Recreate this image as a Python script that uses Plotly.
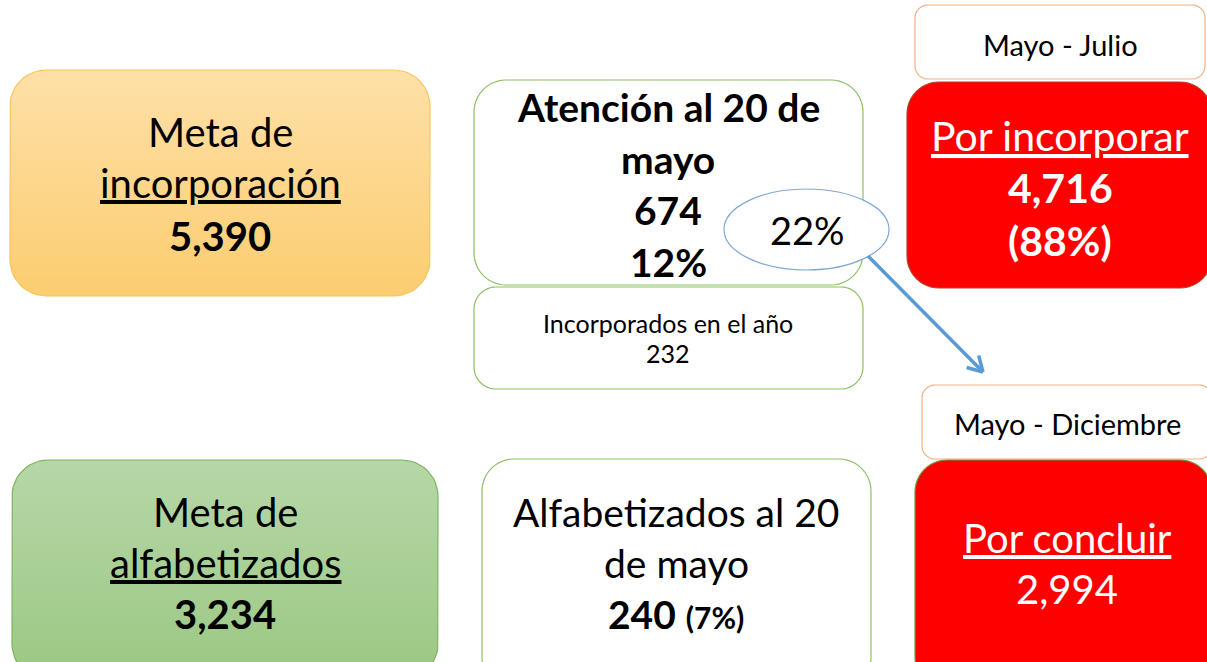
import math
import plotly.graph_objects as go

W, H = 1207, 662
FONT = "Lato"

# ---- data (values shown in the diagram) ----
meta_incorporacion = 5390
atencion_20_mayo = 674
atencion_pct = 12
ellipse_pct = 22
incorporados_anio = 232
por_incorporar = 4716
por_incorporar_pct = 88
meta_alfabetizados = 3234
alfabetizados_20_mayo = 240
alfabetizados_pct = 7
por_concluir = 2994
periodo_labels = ["Mayo - Julio", "Mayo - Diciembre"]


def fmt(n):
    return f"{n:,}"


def rrect(x0, y0, x1, y1, r):
    """Rounded rectangle outline as a list of points."""
    pts = []
    corners = [(x1 - r, y0 + r, -90, 0), (x1 - r, y1 - r, 0, 90),
               (x0 + r, y1 - r, 90, 180), (x0 + r, y0 + r, 180, 270)]
    for cx, cy, a0, a1 in corners:
        for k in range(13):
            a = math.radians(a0 + (a1 - a0) * k / 12)
            pts.append((cx + r * math.cos(a), cy + r * math.sin(a)))
    pts.append(pts[0])
    return pts


def path_of(pts):
    return "M " + " L ".join(f"{x:.2f},{y:.2f}" for x, y in pts) + " Z"


fig = go.Figure()
shapes = []


def box(x0, y0, x1, y1, r, fill, line, lw=1.2):
    shapes.append(dict(type="path", path=path_of(rrect(x0, y0, x1, y1, r)),
                       fillcolor=fill, line=dict(color=line, width=lw),
                       layer="below"))


def grad_box(x0, y0, x1, y1, r, c_top, c_bot, line):
    pts = rrect(x0, y0, x1, y1, r)
    fig.add_trace(go.Scatter(
        x=[p[0] for p in pts], y=[p[1] for p in pts], mode="lines",
        fill="toself", line=dict(color=line, width=1.2),
        fillgradient=dict(type="vertical",
                          colorscale=[[0, c_bot], [1, c_top]]),
        hoverinfo="skip", showlegend=False))


# gradient boxes (traces)
grad_box(10, 70, 430, 296, 36, "#FEE0A8", "#FCCD70", "#F7C55E")
grad_box(12, 460, 438, 680, 36, "#B6D7A8", "#9BC883", "#7FB35F")

# plain boxes
box(474, 80, 863, 285, 32, "white", "#8CC063")
box(474, 287, 863, 389, 22, "white", "#8CC063")
box(915, 5, 1205, 79, 13, "white", "#F2B183")
box(907, 82, 1212, 288, 32, "#FF0000", "#B8402A")
box(922, 385, 1212, 459, 13, "white", "#F2B183")
box(915, 460, 1212, 690, 32, "#FF0000", "#6E9B3A")
box(482, 459, 871, 690, 32, "white", "#8CC063")

fig.update_layout(shapes=shapes)

# ellipse + arrow drawn above the boxes
fig.add_shape(type="circle", x0=724, y0=189, x1=889, y1=270,
              fillcolor="white", line=dict(color="#7FA7D6", width=1.2),
              layer="above")
ax0, ay0, ax1, ay1 = 868, 256, 983, 372
fig.add_shape(type="line", x0=ax0, y0=ay0, x1=ax1, y1=ay1,
              line=dict(color="#5B9BD5", width=3.5), layer="above")
ang = math.atan2(ay1 - ay0, ax1 - ax0)
for d in (math.radians(150), math.radians(-150)):
    fig.add_shape(type="line", x0=ax1, y0=ay1,
                  x1=ax1 + 17 * math.cos(ang + d), y1=ay1 + 17 * math.sin(ang + d),
                  line=dict(color="#5B9BD5", width=3.5), layer="above")


def txt(x, y, s, size, color="black", bold=False):
    if bold:
        s = f"<b>{s}</b>"
    fig.add_annotation(x=x, y=y, text=s, showarrow=False, xanchor="center",
                       yanchor="middle",
                       font=dict(family=FONT, size=size, color=color))


# Orange box
txt(220, 132, "Meta de", 40)
txt(220, 183, "<u>incorporación</u>", 40)
txt(220, 236, fmt(meta_incorporacion), 40, bold=True)

# Atención box
txt(668, 107, "Atención al 20 de", 39, bold=True)
txt(668, 159, "mayo", 39, bold=True)
txt(668, 210, fmt(atencion_20_mayo), 39, bold=True)
txt(668, 262, f"{atencion_pct}%", 39, bold=True)

# Ellipse
txt(807, 230, f"{ellipse_pct}%", 38)

# Incorporados
txt(668, 323, "Incorporados en el año", 25)
txt(668, 353, str(incorporados_anio), 25)

# Right column
txt(1060, 44, periodo_labels[0], 29)
txt(1060, 135, "<u>Por incorporar</u>", 41, color="white")
txt(1060, 187, fmt(por_incorporar), 41, color="white", bold=True)
txt(1060, 240, f"({por_incorporar_pct}%)", 41, color="white", bold=True)

txt(1067, 423, periodo_labels[1], 29)
txt(1067, 538, "<u>Por concluir</u>", 40, color="white")
txt(1067, 589, fmt(por_concluir), 40, color="white")

# Green box
txt(225, 512, "Meta de", 40)
txt(225, 563, "<u>alfabetizados</u>", 40)
txt(225, 614, fmt(meta_alfabetizados), 40, bold=True)

# Alfabetizados box
txt(676, 512, "Alfabetizados al 20", 39)
txt(676, 563, "de mayo", 39)
fig.add_annotation(x=676, y=614, showarrow=False, xanchor="center", yanchor="middle",
                   text=f"<b>{alfabetizados_20_mayo}</b> <b><span style='font-size:30px'>({alfabetizados_pct}%)</span></b>",
                   font=dict(family=FONT, size=39, color="black"))

fig.update_layout(
    width=W, height=H, margin=dict(l=0, r=0, t=0, b=0),
    paper_bgcolor="white", plot_bgcolor="white",
    xaxis=dict(range=[0, W], visible=False, fixedrange=True),
    yaxis=dict(range=[H, 0], visible=False, fixedrange=True),
    showlegend=False,
)

fig.write_html("out.html", config={"displayModeBar": False},
               post_script="document.body.style.margin='0';document.body.style.overflow='hidden';")
